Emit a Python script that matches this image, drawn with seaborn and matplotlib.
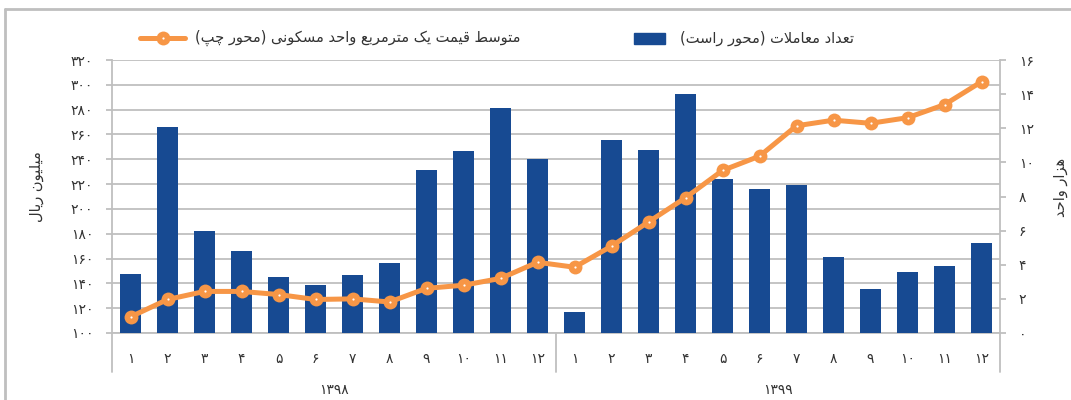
"""
Monthly housing deals and average price per square metre, 1398-1399.
"""
import pandas as pd
import matplotlib
matplotlib.use('Agg')
import matplotlib.pyplot as plt
import seaborn as sns
from matplotlib.lines import Line2D
from matplotlib.patches import Rectangle
from matplotlib.ticker import FuncFormatter, MultipleLocator
from matplotlib.transforms import blended_transform_factory

# data
years = ['۱۳۹۸', '۱۳۹۹']
months = ['۱', '۲', '۳', '۴', '۵', '۶', '۷', '۸', '۹', '۱۰', '۱۱', '۱۲']
deals_1398 = [3.45, 12.1, 6.0, 4.8, 3.3, 2.8, 3.4, 4.1, 9.55, 10.65, 13.2, 10.2]
deals_1399 = [1.25, 11.3, 10.75, 14.0, 9.05, 8.45, 8.65, 4.45, 2.55, 3.55, 3.95, 5.3]
price_1398 = [113, 127, 133.5, 133.5, 131, 127, 127.5, 125, 136, 138.5, 144, 157]
price_1399 = [153, 170, 189.5, 209, 231, 242.5, 267, 271.5, 269, 273.5, 284, 302.5]

bar_label = 'تعداد معاملات (محور راست)'
line_label = 'متوسط قیمت یک مترمربع واحد مسکونی (محور چپ)'
left_ylabel = 'میلیون ریال'
right_ylabel = 'هزار واحد'

BLUE = '#174A92'
ORANGE = '#F79646'
GRID = '#BFBFBF'
TEXT = '#333333'

# simple Persian shaping, matplotlib has no complex text layout
FORMS = {
    'ا': ('\uFE8D', '\uFE8E'),
    'د': ('\uFEA9', '\uFEAA'),
    'ر': ('\uFEAD', '\uFEAE'),
    'ز': ('\uFEAF', '\uFEB0'),
    'و': ('\uFEED', '\uFEEE'),
    'ب': ('\uFE8F', '\uFE90', '\uFE91', '\uFE92'),
    'پ': ('\uFB56', '\uFB57', '\uFB58', '\uFB59'),
    'ت': ('\uFE95', '\uFE96', '\uFE97', '\uFE98'),
    'ح': ('\uFEA1', '\uFEA2', '\uFEA3', '\uFEA4'),
    'چ': ('\uFB7A', '\uFB7B', '\uFB7C', '\uFB7D'),
    'س': ('\uFEB1', '\uFEB2', '\uFEB3', '\uFEB4'),
    'ط': ('\uFEC1', '\uFEC2', '\uFEC3', '\uFEC4'),
    'ع': ('\uFEC9', '\uFECA', '\uFECB', '\uFECC'),
    'ق': ('\uFED5', '\uFED6', '\uFED7', '\uFED8'),
    'ک': ('\uFB8E', '\uFB8F', '\uFB90', '\uFB91'),
    'ل': ('\uFEDD', '\uFEDE', '\uFEDF', '\uFEE0'),
    'م': ('\uFEE1', '\uFEE2', '\uFEE3', '\uFEE4'),
    'ن': ('\uFEE5', '\uFEE6', '\uFEE7', '\uFEE8'),
    'ه': ('\uFEE9', '\uFEEA', '\uFEEB', '\uFEEC'),
    'ی': ('\uFBFC', '\uFBFD', '\uFBFE', '\uFBFF'),
}


def fa(text):
    out = []
    prev_joins = False
    i = 0
    while i < len(text):
        c = text[i]
        if c not in FORMS:
            out.append(c)
            prev_joins = False
            i += 1
            continue
        if c == 'ل' and i + 1 < len(text) and text[i + 1] == 'ا':
            out.append('\uFEFC' if prev_joins else '\uFEFB')
            prev_joins = False
            i += 2
            continue
        forms = FORMS[c]
        nxt = text[i + 1] if i + 1 < len(text) else None
        joins_next = len(forms) == 4 and nxt in FORMS
        if prev_joins and joins_next:
            g = forms[3]
        elif prev_joins:
            g = forms[1]
        elif joins_next:
            g = forms[2]
        else:
            g = forms[0]
        out.append(g)
        prev_joins = joins_next
        i += 1
    s = ''.join(reversed(out))
    return s.translate(str.maketrans('()', ')('))


def fa_digits(v, pos=None):
    return str(int(round(v))).translate(str.maketrans('0123456789', '۰۱۲۳۴۵۶۷۸۹'))


df = pd.DataFrame({
    'year': [years[0]] * 12 + [years[1]] * 12,
    'month': months * 2,
    'deals': deals_1398 + deals_1399,
    'price': price_1398 + price_1399,
})
df['pos'] = range(len(df))

sns.set_style('white')
plt.rcParams['font.family'] = ['DejaVu Sans']

fig = plt.figure(figsize=(10.71, 4.0), dpi=100)
W, H = 1071, 400
rect = [112 / W, 1 - 333 / H, (1000 - 112) / W, (333 - 60) / H]
ax = fig.add_axes(rect)          # left scale + grid + month labels
axb = ax.twinx()                 # bars, right scale
axl = ax.twinx()                 # line, same scale as left

# grid on the base axis
ax.set_ylim(100, 320)
ax.yaxis.set_major_locator(MultipleLocator(20))
ax.yaxis.set_major_formatter(FuncFormatter(fa_digits))
ax.grid(axis='y', color=GRID, linewidth=1.3)
ax.set_axisbelow(True)

# bars
sns.barplot(data=df, x='pos', y='deals', ax=axb, color=BLUE, width=0.58,
            saturation=1, edgecolor='none')
axb.set_ylim(0, 16)
axb.yaxis.set_major_locator(MultipleLocator(2))
axb.yaxis.set_major_formatter(FuncFormatter(fa_digits))

# line
sns.lineplot(data=df, x='pos', y='price', ax=axl, color=ORANGE, linewidth=3.6,
             marker='o', markersize=10, markeredgewidth=0)
axl.plot(df['pos'], df['price'], ls='none', marker='o', markersize=1.6,
         color='white', markeredgewidth=0)
axl.set_ylim(100, 320)
axl.set_yticks([])

for a in (ax, axb, axl):
    a.set_xlabel('')
    a.set_ylabel('')
    for side in ('top', 'left', 'right', 'bottom'):
        a.spines[side].set_visible(False)

ax.spines['left'].set_visible(True)
ax.spines['bottom'].set_visible(True)
axb.spines['right'].set_visible(True)
for sp in (ax.spines['left'], ax.spines['bottom'], axb.spines['right']):
    sp.set_color(GRID)
    sp.set_linewidth(1.3)

ax.tick_params(axis='y', left=True, length=4.5, width=1.3, color=GRID,
               pad=9, labelsize=10, labelcolor=TEXT)
axb.tick_params(axis='y', right=True, length=4.5, width=1.3, color=GRID,
                pad=9, labelsize=10, labelcolor=TEXT)

# month labels and year groups
ax.set_xticks(df['pos'])
ax.set_xticklabels(df['month'])
ax.tick_params(axis='x', bottom=False, length=0, pad=14, labelsize=10,
               labelcolor=TEXT)
ax.set_xlim(-0.5, len(df) - 0.5)

trans = blended_transform_factory(ax.transData, ax.transAxes)
for xs in (-0.5, 11.5, 23.5):
    ax.plot([xs, xs], [0, -39 / 273], transform=trans, color=GRID,
            linewidth=1.3, clip_on=False)
for k, yr in enumerate(years):
    ax.text(5.5 + 12 * k, -57 / 273, yr, transform=trans, ha='center',
            va='center', fontsize=10, color=TEXT)

# axis titles
fig.text(36 / W, 1 - 187 / H, fa(left_ylabel), rotation=90, ha='center',
         va='center', fontsize=10.5, color=TEXT)
fig.text(1061 / W, 1 - 187 / H, fa(right_ylabel), rotation=90, ha='center',
         va='center', fontsize=10.5, color=TEXT)

# legend
ly = 1 - 38 / H
fig.add_artist(Line2D([140 / W, 185 / W], [ly, ly], color=ORANGE,
                      linewidth=3.6, transform=fig.transFigure))
fig.add_artist(Line2D([162.5 / W], [ly], color=ORANGE, marker='o',
                      markersize=10, markeredgewidth=0,
                      transform=fig.transFigure))
fig.add_artist(Line2D([162.5 / W], [ly], color='white', marker='o',
                      markersize=1.6, markeredgewidth=0,
                      transform=fig.transFigure))
fig.text(195 / W, ly, fa(line_label), ha='left', va='center', fontsize=10.5,
         color=TEXT)
fig.add_artist(Rectangle((634 / W, 1 - 44 / H), 31 / W, 11 / H, color=BLUE,
                         transform=fig.transFigure))
fig.text(680 / W, ly, fa(bar_label), ha='left', va='center', fontsize=10.5,
         color=TEXT)

# chart frame (cut off at right and bottom)
fig.add_artist(Line2D([5 / W, 5 / W], [0, 1 - 9 / H], color=GRID,
                      linewidth=2, transform=fig.transFigure))
fig.add_artist(Line2D([5 / W, 1], [1 - 9 / H, 1 - 9 / H], color=GRID,
                      linewidth=2, transform=fig.transFigure))

fig.savefig('out.png', dpi=100)
